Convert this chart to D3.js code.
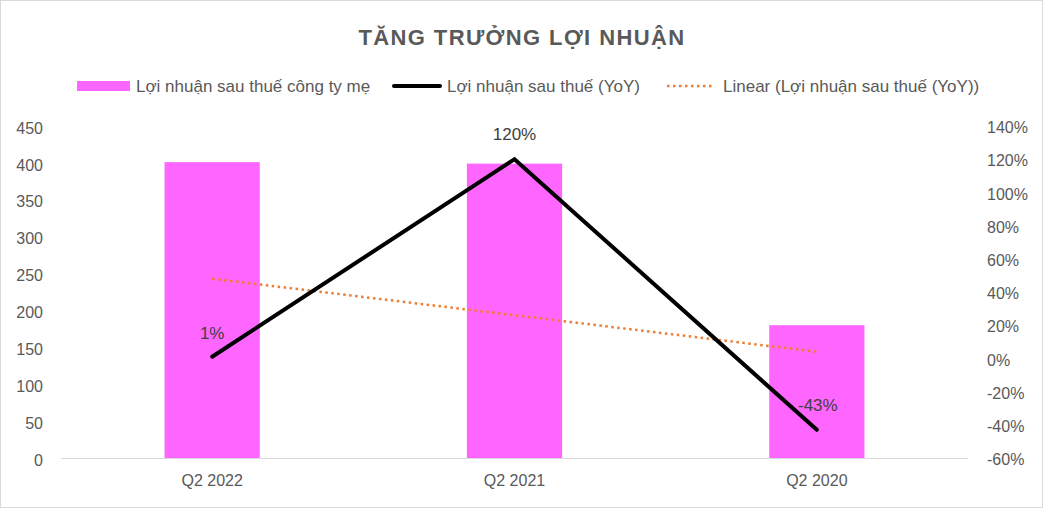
<!DOCTYPE html>
<html><head><meta charset="utf-8">
<script src="https://cdn.jsdelivr.net/npm/d3@7/dist/d3.min.js"></script>
<style>body{margin:0;background:#fff}svg{display:block}</style>
</head><body>
<svg id="c" width="1043" height="508"></svg>
<script>
const categories = ["Q2 2022", "Q2 2021", "Q2 2020"];
const profitValues = [401, 399, 180];
const yoyValues = [1, 120, -43];
const trendValues = [48, 26, 4];
const leftTicks = [0, 50, 100, 150, 200, 250, 300, 350, 400, 450];
const rightTicks = [-60, -40, -20, 0, 20, 40, 60, 80, 100, 120, 140];
const legendLabels = ["Lợi nhuận sau thuế công ty mẹ", "Lợi nhuận sau thuế (YoY)", "Linear (Lợi nhuận sau thuế (YoY))"];
const title = "TĂNG TRƯỞNG LỢI NHUẬN";

const svg = d3.select("#c");
const W = 1043, H = 508;
const font = "'Liberation Sans', Arial, sans-serif";
svg.append("rect").attr("x",0.5).attr("y",0.5).attr("width",W-1).attr("height",H-1)
  .attr("fill","#fff").attr("stroke","#d9d9d9");

const m = {l:61, r:968, t:126, b:458};
const x = d3.scaleBand().domain(categories).range([m.l, m.r]).paddingInner(0.685).paddingOuter(0.3425);
const yL = d3.scaleLinear().domain([0,450]).range([m.b, m.t]);
const yR = d3.scaleLinear().domain([-60,140]).range([m.b, m.t]);
const xc = d => x(d) + x.bandwidth()/2;

svg.append("text").attr("x",522).attr("y",45).attr("text-anchor","middle")
  .attr("font-family",font).attr("font-weight","bold").attr("font-size",22)
  .attr("letter-spacing","1.4px")
  .attr("fill","#595959").text(title);

// bars
svg.append("g").selectAll("rect").data(categories).join("rect")
  .attr("x", d=>x(d)).attr("width", x.bandwidth())
  .attr("y", (d,i)=>yL(profitValues[i])).attr("height",(d,i)=>m.b-yL(profitValues[i]))
  .attr("fill","#ff66ff");

// x axis line
svg.append("line").attr("x1",m.l).attr("x2",m.r).attr("y1",m.b+0.5).attr("y2",m.b+0.5)
  .attr("stroke","#d9d9d9").attr("stroke-width",1);

// axes
const axL = svg.append("g").attr("transform",`translate(${m.l-18},2)`)
  .call(d3.axisLeft(yL).tickValues(leftTicks).tickSize(0).tickPadding(0));
const axR = svg.append("g").attr("transform",`translate(${m.r+19},1.5)`)
  .call(d3.axisRight(yR).tickValues(rightTicks).tickSize(0).tickPadding(0).tickFormat(d=>d+"%"));
const axB = svg.append("g").attr("transform",`translate(0,${m.b})`)
  .call(d3.axisBottom(x).tickSize(0).tickPadding(17));
[axL,axR,axB].forEach(a=>{
  a.select(".domain").remove();
  a.selectAll("text").attr("font-family",font).attr("font-size",16).attr("fill","#595959");
});

// trendline
const lineT = d3.line().x((d,i)=>xc(categories[i])).y(d=>yR(d));
svg.append("path").datum(trendValues).attr("d",lineT).attr("fill","none")
  .attr("stroke","#ed7d31").attr("stroke-width",2.5).attr("stroke-dasharray","2.5 3.5");

// yoy line
svg.append("path").datum(yoyValues).attr("d",lineT).attr("fill","none")
  .attr("stroke","#000").attr("stroke-width",4).attr("stroke-linecap","round").attr("stroke-linejoin","miter");

// data labels
const labOff = [-18, -19, -19];
svg.append("g").selectAll("text").data(yoyValues).join("text")
  .attr("x",(d,i)=>xc(categories[i])+(i==2?1:0)).attr("y",(d,i)=>yR(d)+labOff[i])
  .attr("text-anchor","middle").attr("font-family",font).attr("font-size",17).attr("fill","#404040")
  .text(d=>d+"%");

// legend
const lg = svg.append("g").attr("font-family",font).attr("font-size",17).attr("fill","#595959");
lg.append("rect").attr("x",77).attr("y",81).attr("width",53).attr("height",10).attr("fill","#ff66ff");
lg.append("text").attr("x",136).attr("y",92).text(legendLabels[0]);
lg.append("line").attr("x1",394).attr("x2",440).attr("y1",86).attr("y2",86).attr("stroke","#000").attr("stroke-width",4).attr("stroke-linecap","round");
lg.append("text").attr("x",447).attr("y",92).text(legendLabels[1]);
lg.append("line").attr("x1",667).attr("x2",712).attr("y1",86).attr("y2",86).attr("stroke","#ed7d31").attr("stroke-width",2.5).attr("stroke-dasharray","2.5 3.5");
lg.append("text").attr("x",723).attr("y",92).text(legendLabels[2]);
</script>
</body></html>
